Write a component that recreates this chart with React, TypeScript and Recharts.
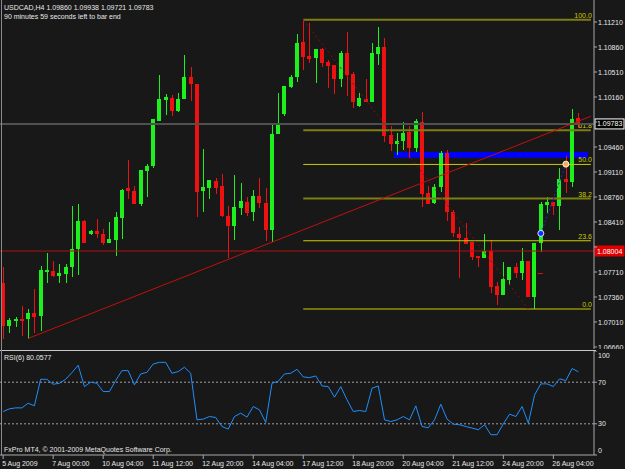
import React from "react";
import {
  ComposedChart,
  Bar,
  Line,
  XAxis,
  YAxis,
  ReferenceLine,
  ReferenceArea,
  ReferenceDot,
} from "recharts";

// USDCAD H4 bars, 5 Aug - 26 Aug 2009
const opens = [
  1.0756, 1.0695, 1.0702, 1.0705, 1.0705, 1.0714, 1.0709, 1.0773, 1.0772, 1.0766,
  1.0768, 1.0778, 1.0803, 1.0842, 1.0824, 1.0828, 1.0824, 1.0812, 1.0816, 1.0847,
  1.0889, 1.0884, 1.0866, 1.0912, 1.092, 1.0982, 1.1012, 1.1015, 1.0996, 1.1013,
  1.1044, 1.1034, 1.0884, 1.0889, 1.0898, 1.0891, 1.0849, 1.0835, 1.0861, 1.0869,
  1.0855, 1.0877, 1.0868, 1.083, 1.0964, 1.0992, 1.103, 1.1044, 1.1093, 1.1073,
  1.1071, 1.1083, 1.1065, 1.1061, 1.1041, 1.1078, 1.1048, 1.1003, 1.1013, 1.1009,
  1.1076, 1.1086, 1.0963, 1.095, 1.0954, 1.0967, 1.0945, 1.0981, 1.0882, 1.0868,
  1.089, 1.0938, 1.0855, 1.0824, 1.0819, 1.0813, 1.0793, 1.0791, 1.08, 1.0751,
  1.0739, 1.076, 1.0778, 1.077, 1.0786, 1.0736, 1.0812, 1.0865, 1.0869, 1.0863,
  1.0901, 1.0897, 1.0986,
];
const highs = [
  1.0778, 1.0707, 1.0708, 1.0724, 1.0719, 1.0747, 1.0779, 1.0798, 1.0786, 1.0782,
  1.0782, 1.0863, 1.0866, 1.0844, 1.083, 1.0845, 1.0831, 1.0841, 1.0855, 1.0887,
  1.0928, 1.0891, 1.0914, 1.0922, 1.0985, 1.1047, 1.102, 1.1019, 1.1022, 1.1075,
  1.1058, 1.1034, 1.0943, 1.09, 1.0903, 1.0908, 1.0863, 1.0907, 1.0896, 1.0876,
  1.0886, 1.0903, 1.0889, 1.0978, 1.1022, 1.1031, 1.1047, 1.1104, 1.1124, 1.112,
  1.1083, 1.1085, 1.1068, 1.1061, 1.108, 1.1107, 1.1051, 1.1022, 1.1041, 1.1092,
  1.1114, 1.1099, 1.0975, 1.0966, 1.0981, 1.0975, 1.0985, 1.0995, 1.0891, 1.0894,
  1.094, 1.0942, 1.0858, 1.0834, 1.084, 1.0813, 1.0793, 1.0824, 1.0816, 1.0757,
  1.0785, 1.0778, 1.0784, 1.0805, 1.0786, 1.0812, 1.0869, 1.0876, 1.0869, 1.0917,
  1.0933, 1.0999, 1.09938,
];
const lows = [
  1.0677, 1.0686, 1.0694, 1.0682, 1.0677, 1.0686, 1.0688, 1.0756, 1.0764, 1.0756,
  1.0756, 1.0764, 1.0767, 1.0811, 1.0823, 1.0819, 1.0809, 1.0811, 1.0793, 1.0817,
  1.0873, 1.0866, 1.0863, 1.0876, 1.0917, 1.0982, 1.0991, 1.0989, 1.0995, 1.1013,
  1.101, 1.0848, 1.0855, 1.0873, 1.088, 1.0848, 1.0791, 1.0816, 1.0851, 1.0849,
  1.0842, 1.0861, 1.0814, 1.0813, 1.0964, 1.0989, 1.1029, 1.1037, 1.1054, 1.1064,
  1.1036, 1.1058, 1.1029, 1.102, 1.103, 1.1017, 1.1001, 1.1002, 1.1009, 1.1009,
  1.1061, 1.0953, 1.094, 1.0935, 1.0942, 1.0931, 1.0939, 1.0862, 1.0866, 1.0866,
  1.0883, 1.0842, 1.082, 1.0763, 1.081, 1.0788, 1.0778, 1.0791, 1.0742, 1.0725,
  1.0739, 1.0753, 1.0763, 1.076, 1.0736, 1.0719, 1.0799, 1.0854, 1.0851, 1.083,
  1.0882, 1.089, 1.09721,
];
const closes = [
  1.0695, 1.0704, 1.0705, 1.0704, 1.0714, 1.0708, 1.0774, 1.0774, 1.0765, 1.0769,
  1.0778, 1.0803, 1.0842, 1.0812, 1.0828, 1.0824, 1.0812, 1.0817, 1.0848, 1.0886,
  1.0884, 1.0866, 1.0914, 1.092, 1.0985, 1.1013, 1.1016, 1.0996, 1.1013, 1.1044,
  1.1034, 1.0883, 1.089, 1.09, 1.0889, 1.0849, 1.0835, 1.0862, 1.087, 1.0854,
  1.0877, 1.0868, 1.083, 1.0964, 1.0978, 1.1031, 1.1044, 1.1092, 1.1072, 1.1069,
  1.1083, 1.1064, 1.1059, 1.1041, 1.1078, 1.1047, 1.1009, 1.1015, 1.1009, 1.1078,
  1.1086, 1.0961, 1.095, 1.0954, 1.0966, 1.0945, 1.0982, 1.088, 1.0866, 1.089,
  1.0938, 1.0855, 1.0826, 1.0819, 1.081, 1.0792, 1.0791, 1.08, 1.075, 1.0739,
  1.0761, 1.0778, 1.077, 1.0786, 1.0736, 1.0812, 1.0866, 1.0869, 1.0863, 1.0901,
  1.0897, 1.0985, 1.09783,
];
const rsi6 = [
  41.8, 44.4, 45.3, 45.3, 49.8, 47.3, 72.8, 72.8, 68.0, 69.0,
  72.8, 79.2, 86.3, 65.8, 70.0, 69.0, 61.0, 61.0, 71.6, 81.1,
  81.1, 67.4, 77.9, 79.5, 87.5, 89.1, 89.1, 78.6, 80.2, 84.4,
  78.6, 33.8, 34.5, 37.0, 36.1, 27.4, 24.9, 37.0, 40.2, 36.4,
  46.6, 43.4, 31.3, 69.0, 70.9, 77.9, 78.6, 82.4, 75.1, 74.4,
  76.0, 66.4, 65.8, 55.6, 65.8, 53.0, 41.8, 42.8, 41.8, 64.2,
  66.4, 33.8, 32.2, 33.8, 37.0, 33.8, 47.3, 27.4, 26.2, 33.8,
  48.9, 34.5, 29.7, 29.1, 27.4, 25.9, 24.3, 29.1, 19.5, 19.5,
  30.0, 39.3, 37.0, 46.6, 30.6, 57.8, 68.4, 68.4, 65.8, 73.2,
  71.6, 83.1, 80.06,
];

const dateLabels = [
  "5 Aug 2009", "7 Aug 00:00", "10 Aug 04:00", "11 Aug 12:00",
  "12 Aug 20:00", "14 Aug 04:00", "17 Aug 12:00", "18 Aug 20:00",
  "20 Aug 04:00", "21 Aug 12:00", "24 Aug 20:00", "26 Aug 04:00",
];
const barsPerLabel = 8;
const priceTicks = [
  1.0666, 1.0701, 1.0736, 1.0771, 1.0806, 1.0841, 1.0876,
  1.0911, 1.0946, 1.0981, 1.1016, 1.1051, 1.1086, 1.1121,
];
const rsiTicks = [0, 30, 70, 100];

// fibonacci retracement from bar 48 high to bar 84/85 low
const fibNames = ["0.0", "23.6", "38.2", "50.0", "61.8", "100.0"];
const fibRatios = [0, 0.236, 0.382, 0.5, 0.618, 1];
const fibLow = 1.07192;
const fibHigh = 1.1124;
const fibFromBar = 48;
const fibToBar = 84;

const trendStart = { bar: 4, price: 1.0678 };
const trendEnd = { bar: 94, price: 1.0989 };
const zone = { fromBar: 63, toBar: 93, low: 1.0931, high: 1.0939 };
const bidPrice = 1.09783;
const alertPrice = 1.08004;
const markA = { bar: 86, price: 1.0825 };
const markB = { bar: 90, price: 1.0922 };
const dashMark = { bar: 86, price: 1.077 };

const PRICE_MIN = 1.06632;
const PRICE_MAX = 1.11518;
const blankSlots = 2; // empty space right of the last bar

const BG = "#181818";
const FONT = "'Liberation Sans', Arial, sans-serif";
const TEXT = "#e8e8e8";
const AXIS = "#a8a8a8";
const BULL = "#1ef01e";
const BEAR = "#ee1111";
const FIB_BRIGHT = "#cccc00";
const FIB_DIM = "#7d7d12";
const dimFibs = new Set(["100.0", "61.8", "38.2"]);

const rows = Array.from({ length: opens.length + blankSlots }, (_, i) =>
  i < opens.length
    ? {
        i,
        range: [lows[i], highs[i]],
        open: opens[i],
        high: highs[i],
        low: lows[i],
        close: closes[i],
        rsi: rsi6[i],
      }
    : { i }
);
const dateTicks = dateLabels.map((_, k) => k * barsPerLabel);
const fibLevels = fibRatios.map((r) => fibLow + r * (fibHigh - fibLow));

function Candle(props: any) {
  const { x, y, width, height, payload } = props;
  if (!payload || payload.high == null) return null;
  const top = Math.min(y, y + height);
  const span = Math.abs(height);
  const k = payload.high === payload.low ? 0 : span / (payload.high - payload.low);
  const toPx = (p: number) => top + (payload.high - p) * k;
  const up = payload.close >= payload.open;
  const color = up ? BULL : BEAR;
  const left = Math.round(x + width / 2 - 2);
  const bodyTop = Math.round(toPx(Math.max(payload.open, payload.close)));
  const bodyBot = Math.round(toPx(Math.min(payload.open, payload.close)));
  const wickTop = Math.round(top);
  const wickBot = Math.round(top + span);
  return (
    <g>
      <rect x={left + 2} y={wickTop} width={1} height={Math.max(1, wickBot - wickTop)} fill={color} />
      <rect x={left} y={bodyTop} width={4} height={Math.max(2, bodyBot - bodyTop)} fill={color} />
    </g>
  );
}

// labels that sit under the bid / alert price boxes are hidden, as on the terminal
const underBox = (v: number) =>
  Math.abs(v - bidPrice) < 0.0006 || Math.abs(v - alertPrice) < 0.0006;

const PriceTick = (props: any) => {
  const v = Number(props.payload.value);
  if (underBox(v)) return <g />;
  return (
    <text x={598} y={props.y + 2.5} fill={TEXT} fontSize={7}>
      {v.toFixed(5)}
    </text>
  );
};

const RsiTick = (props: any) => {
  const v = props.payload.value;
  const shift = v === 100 ? 4.5 : v === 0 ? -5 : 0;
  return (
    <text x={598} y={props.y + shift + 2.5} fill={TEXT} fontSize={7}>
      {v}
    </text>
  );
};

const DateTick = (props: any) => (
  <text x={props.x - 1} y={115} fill={TEXT} fontSize={7}>
    {dateLabels[props.payload.value / barsPerLabel]}
  </text>
);

const priceBox = (value: number, fill: string, stroke: string) => (props: any) => {
  const vb = props.viewBox;
  const cy = vb.y;
  return (
    <g>
      <rect x={595} y={cy - 5} width={29} height={10} fill={fill} stroke={stroke} strokeWidth={1} />
      <text x={597} y={cy + 2.5} fill="#ffffff" fontSize={7}>
        {value.toFixed(5)}
      </text>
    </g>
  );
};

const fibLabel = (name: string) => (props: any) => {
  const vb = props.viewBox;
  return (
    <text x={vb.x + vb.width + 1} y={vb.y - 2} textAnchor="end" fill={FIB_BRIGHT} fontSize={7}>
      {name}
    </text>
  );
};

export default function App() {
  return (
    <div
      style={{
        position: "fixed",
        left: 0,
        top: 0,
        width: 625,
        height: 469,
        background: BG,
        fontFamily: FONT,
        overflow: "hidden",
      }}
    >
      <div style={{ position: "absolute", left: 0, top: 0 }}>
        <ComposedChart width={625} height={349} data={rows} margin={{ top: 0, right: 0, bottom: 0, left: 0 }}>
          <XAxis dataKey="i" type="category" scale="band" hide />
          <YAxis
            orientation="right"
            width={31}
            domain={[PRICE_MIN, PRICE_MAX]}
            allowDataOverflow
            ticks={priceTicks}
            interval={0}
            tick={PriceTick}
            tickSize={3}
            axisLine={{ stroke: AXIS }}
            tickLine={{ stroke: AXIS }}
          />
          <ReferenceArea
            x1={zone.fromBar}
            x2={zone.toBar}
            y1={zone.low}
            y2={zone.high}
            fill="#0000ff"
            fillOpacity={1}
            stroke="none"
          />
          {fibLevels.map((lvl, k) => (
            <ReferenceLine
              key={fibNames[k]}
              segment={[
                { x: fibFromBar, y: lvl },
                { x: rows.length - 1, y: lvl },
              ]}
              stroke={dimFibs.has(fibNames[k]) ? FIB_DIM : FIB_BRIGHT}
              strokeWidth={dimFibs.has(fibNames[k]) ? 2 : 1}
              label={fibLabel(fibNames[k])}
            />
          ))}
          <ReferenceLine
            segment={[
              { x: fibFromBar, y: fibHigh },
              { x: fibToBar, y: fibLow },
            ]}
            stroke="#8a0a0a"
            strokeDasharray="2 3"
          />
          <ReferenceLine y={bidPrice} stroke="#505050" strokeWidth={2} label={priceBox(bidPrice, "#000000", "#ffffff")} />
          <ReferenceLine y={alertPrice} stroke="#b01010" label={priceBox(alertPrice, "#e00000", "#e00000")} />
          <ReferenceLine
            segment={[
              { x: trendStart.bar, y: trendStart.price },
              { x: trendEnd.bar, y: trendEnd.price },
            ]}
            stroke="#c01010"
          />
          <ReferenceLine
            segment={[
              { x: markA.bar, y: markA.price },
              { x: markB.bar, y: markB.price },
            ]}
            stroke="#2626c8"
            strokeDasharray="2 2"
          />
          <Bar dataKey="range" barSize={4} shape={Candle} isAnimationActive={false} />
          <ReferenceDot x={markA.bar} y={markA.price} r={3} fill="#1030ff" stroke="#e0e0ff" strokeWidth={1} />
          <ReferenceDot x={markB.bar} y={markB.price} r={3} fill="#f0b060" stroke="#fff0d0" strokeWidth={1} />
          <ReferenceDot
            x={dashMark.bar}
            y={dashMark.price}
            shape={(p: any) => <rect x={p.cx - 3} y={Math.round(p.cy)} width={5} height={1} fill="#e01010" />}
          />
        </ComposedChart>
      </div>

      <div style={{ position: "absolute", left: 0, top: 350, width: 596, height: 1, background: "#c8c8c8" }} />
      <div style={{ position: "absolute", left: 1, top: 0, width: 1, height: 455, background: "#8a8a8a" }} />

      <div style={{ position: "absolute", left: 0, top: 351 }}>
        <ComposedChart width={625} height={118} data={rows} margin={{ top: 0, right: 0, bottom: 0, left: 0 }}>
          <XAxis
            dataKey="i"
            type="category"
            scale="band"
            height={14}
            ticks={dateTicks}
            interval={0}
            tick={DateTick}
            tickSize={4}
            axisLine={{ stroke: AXIS }}
            tickLine={{ stroke: AXIS }}
          />
          <YAxis
            orientation="right"
            width={31}
            domain={[0, 100]}
            allowDataOverflow
            ticks={rsiTicks}
            interval={0}
            tick={RsiTick}
            tickSize={3}
            axisLine={{ stroke: AXIS }}
            tickLine={{ stroke: AXIS }}
          />
          <ReferenceLine y={70} stroke="#a0a0a0" strokeDasharray="2 2" />
          <ReferenceLine y={30} stroke="#a0a0a0" strokeDasharray="2 2" />
          <Line dataKey="rsi" type="linear" stroke="#1e8fff" strokeWidth={1} dot={false} isAnimationActive={false} />
        </ComposedChart>
      </div>

      <svg width={625} height={469} style={{ position: "absolute", left: 0, top: 0, pointerEvents: "none" }}>
        <text x={4} y={10} fill={TEXT} fontSize={7}>
          USDCAD,H4  1.09860 1.09938 1.09721 1.09783
        </text>
        <text x={4} y={19} fill={TEXT} fontSize={7}>
          90 minutes 59 seconds left to bar end
        </text>
        <text x={4} y={360} fill={TEXT} fontSize={7}>
          RSI(6) 80.0577
        </text>
        <text x={4} y={452} fill={TEXT} fontSize={7}>
          FxPro MT4, © 2001-2009 MetaQuotes Software Corp.
        </text>
      </svg>
    </div>
  );
}
